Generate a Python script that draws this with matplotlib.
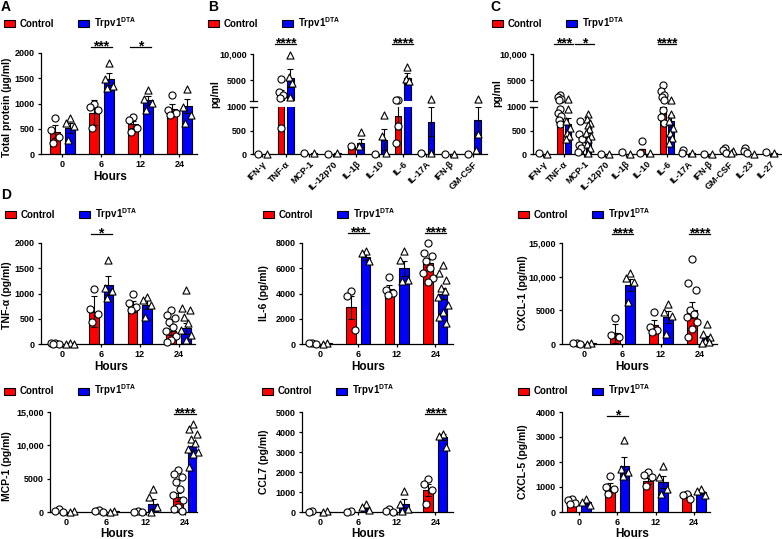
import matplotlib
matplotlib.use("Agg")
import matplotlib.pyplot as plt
from matplotlib.patches import Rectangle
from matplotlib import transforms

W, H = 782, 539

plt.rcParams['font.family'] = ['Liberation Sans', 'DejaVu Sans']
plt.rcParams['font.weight'] = 'bold'
plt.rcParams['mathtext.fontset'] = 'custom'
plt.rcParams['mathtext.rm'] = 'Liberation Sans:bold'
plt.rcParams['mathtext.it'] = 'Liberation Sans:bold'
plt.rcParams['mathtext.bf'] = 'Liberation Sans:bold'
plt.rcParams['axes.linewidth'] = 0.9
plt.rcParams['xtick.major.width'] = 0.9
plt.rcParams['ytick.major.width'] = 0.9

RED = '#ff0000'
BLUE = '#0000ff'

hours = ['0', '6', '12', '24']

# --- A: total protein
prot_ctrl_mean = [444, 821, 590, 900]
prot_ctrl_sem = [130, 250, 70, 90]
prot_ctrl_pts = [[709, 477, 344, 212], [993, 940, 874, 510], [742, 675, 510, 444], [1172, 874, 808, 775]]
prot_trpv_mean = [510, 1490, 1060, 954]
prot_trpv_sem = [95, 115, 80, 140]
prot_trpv_pts = [[709, 609, 556, 278], [1801, 1483, 1338, 1304], [1258, 1086, 1006, 874], [1284, 940, 775, 622]]

# --- B: cytokines panel 1
b_cats = ['IFN-γ', 'TNF-α', 'MCP-1', 'IL-12p70', 'IL-1β', 'IL-10', 'IL-6', 'IL-17A', 'IFN-β', 'GM-CSF']
b_ctrl_mean = [5, 2300, 30, 5, 175, 5, 800, 30, 5, 5]
b_ctrl_sem = [0, 850, 0, 0, 0, 0, 220, 0, 0, 0]
b_ctrl_pts = [[0], [5100, 2600, 2100, 1600, 560], [30], [0], [175], [0], [1250, 1150, 600, 240], [30], [0], [0]]
b_trpv_mean = [5, 5400, 30, 20, 234, 306, 5300, 690, 5, 715]
b_trpv_sem = [0, 1650, 0, 0, 90, 220, 980, 310, 0, 285]
b_trpv_pts = [[0], [9800, 5600, 4400, 1800], [30], [20], [467, 160], [832, 380, 15], [7500, 5100, 4800],
              [1300, 20], [0], [1300, 430, 90]]

# --- C: cytokines panel 2
c_cats = ['IFN-γ', 'TNF-α', 'MCP-1', 'IL-12p70', 'IL-1β', 'IL-10', 'IL-6', 'IL-17A', 'IFN-β', 'GM-CSF',
          'IL-23', 'IL-27']
c_ctrl_mean = [20, 850, 130, 5, 50, 100, 1100, 50, 5, 70, 60, 30]
c_ctrl_sem = [0, 150, 60, 0, 0, 0, 250, 0, 0, 0, 0, 0]
c_ctrl_pts = [[20], [2100, 1800, 1400, 1100, 960, 880, 800, 720, 640], [710, 420, 310, 200, 120, 50], [10], [50],
              [270, 30], [4100, 2900, 2200, 1700, 1100, 930, 780, 670], [90, 30], [5], [130, 80, 30],
              [120, 70, 30], [40]]
c_trpv_mean = [5, 630, 380, 5, 10, 10, 700, 15, 5, 30, 10, 15]
c_trpv_sem = [0, 130, 70, 0, 0, 0, 120, 0, 0, 0, 0, 0]
c_trpv_pts = [[5], [1400, 960, 710, 560, 450, 380, 320], [850, 750, 670, 610, 540, 450, 380, 310, 220, 120, 30],
              [5], [10], [20], [1250, 850, 710, 560, 450, 340, 230], [15], [5], [60, 20], [10], [20]]

# --- D: time courses
tnf_ctrl_mean = [15, 640, 740, 260]
tnf_ctrl_sem = [5, 310, 110, 90]
tnf_ctrl_pts = [[20, 10, 5, 0], [1090, 690, 600, 440], [990, 810, 740, 680],
                [680, 580, 510, 440, 340, 250, 150, 80, 40]]
tnf_trpv_mean = [10, 1160, 775, 310]
tnf_trpv_sem = [3, 180, 90, 110]
tnf_trpv_pts = [[10, 5, 0], [1670, 1100, 1040, 910], [940, 870, 780, 540], [1060, 710, 670, 540, 410, 280, 180, 80]]

il6_ctrl_mean = [60, 2900, 4350, 6400]
il6_ctrl_sem = [20, 900, 320, 340]
il6_ctrl_pts = [[80, 50, 30], [4160, 3820, 1110], [5300, 4290, 4030, 3900],
                [8000, 7200, 6940, 6550, 6000, 5600, 5200, 4950]]
il6_trpv_mean = [50, 6900, 6000, 4000]
il6_trpv_sem = [15, 250, 600, 450]
il6_trpv_pts = [[50, 30], [7340, 7200, 6550], [7340, 6680, 5090, 4960],
                [6280, 5620, 5090, 4430, 4160, 3760, 3100, 2570, 2170, 1640]]

cxcl1_ctrl_mean = [100, 1600, 2750, 5100]
cxcl1_ctrl_sem = [30, 1400, 800, 1200]
cxcl1_ctrl_pts = [[150, 100, 50], [3900, 1400, 1000], [4750, 2500, 2100, 1750],
                  [12600, 9000, 8000, 5000, 4500, 4000, 3250, 2250, 1100]]
cxcl1_trpv_mean = [80, 8750, 4000, 850]
cxcl1_trpv_sem = [20, 900, 900, 300]
cxcl1_trpv_pts = [[80, 50], [10600, 9750, 9250, 6250], [6000, 4750, 4100, 1500], [2900, 1500, 1000, 500, 250, 100]]

mcp1_ctrl_mean = [200, 150, 50, 2300]
mcp1_ctrl_sem = [50, 50, 20, 600]
mcp1_ctrl_pts = [[500, 150, 50], [300, 150, 50], [100, 50, 20],
                 [6250, 5750, 5250, 4500, 3500, 2500, 1750, 750, 500, 200]]
mcp1_trpv_mean = [50, 100, 1250, 9850]
mcp1_trpv_sem = [20, 30, 750, 600]
mcp1_trpv_pts = [[80, 30], [200, 50], [3500, 2250, 750, 0],
                 [13250, 12500, 11750, 11000, 10300, 9500, 9000, 8700, 6700]]

ccl7_ctrl_mean = [20, 20, 40, 1100]
ccl7_ctrl_sem = [5, 5, 20, 280]
ccl7_ctrl_pts = [[30, 10], [40, 20], [160, 60, 20], [1670, 1380, 1080, 420]]
ccl7_trpv_mean = [20, 200, 420, 3730]
ccl7_trpv_sem = [5, 80, 230, 150]
ccl7_trpv_pts = [[30, 10], [420, 250, 80], [1050, 420, 170, 50], [3880, 3780, 3250]]

cxcl5_ctrl_mean = [400, 1000, 1240, 730]
cxcl5_ctrl_sem = [50, 150, 130, 50]
cxcl5_ctrl_pts = [[530, 470, 360, 310], [1430, 1000, 930, 730], [1600, 1470, 1400, 1030], [730, 670, 530]]
cxcl5_trpv_mean = [400, 1830, 1200, 800]
cxcl5_trpv_sem = [60, 370, 250, 60]
cxcl5_trpv_pts = [[530, 400, 270], [2870, 1730, 1600, 1430], [1830, 1400, 930, 710], [930, 840, 670]]


fig = plt.figure(figsize=(W / 100, H / 100), dpi=100)


def box(x0, y0, x1, y1):
    return [x0 / W, 1 - y1 / H, (x1 - x0) / W, (y1 - y0) / H]


def fy(y):
    return 1 - y / H


def fmt(v):
    return f"{v:,}" if v >= 10000 else str(v)


def spread(n, w):
    pattern = [0, -1, 1, -0.5, 0.5, -1.3, 1.3]
    return [pattern[i % len(pattern)] * w for i in range(n)]


def draw_groups(ax, ctrl, trpv, off, width, w, keep=None):
    for sign, color, marker, (mean, sem, pts) in [(-1, RED, 'o', ctrl), (1, BLUE, '^', trpv)]:
        xs = [i + sign * off for i in range(len(mean))]
        ax.bar(xs, mean, width, color=color, edgecolor='black', linewidth=0.8, zorder=2)
        ax.errorbar(xs, mean, yerr=sem, fmt='none', ecolor='black', elinewidth=0.8,
                    capsize=2, capthick=0.8, zorder=3)
        for xi, p in zip(xs, pts):
            vals = [v for v in p if keep is None or keep(v)]
            if not vals:
                continue
            ax.scatter([xi + o for o in spread(len(vals), w)], vals, s=26, marker=marker,
                       facecolor='white', edgecolor='black', linewidths=0.8, zorder=4, clip_on=False)


def legend(xr, y):
    for dx, color in [(0, RED), (74, BLUE)]:
        fig.add_artist(Rectangle(((xr + dx) / W, fy(y + 3.5)), 11 / W, 7 / H, transform=fig.transFigure,
                                 facecolor=color, edgecolor='black', linewidth=0.8))
    fig.text((xr + 16) / W, fy(y + 3.5), 'Control', fontsize=7, va='baseline')
    fig.text((xr + 90) / W, fy(y + 3.5), r'Trpv1$^{\mathrm{DTA}}$', fontsize=7, va='baseline')


def sig(ax, x, ypx, text, half):
    tr = transforms.blended_transform_factory(ax.transData, fig.transFigure)
    ax.plot([x - half, x + half], [fy(ypx), fy(ypx)], color='black', lw=0.9, transform=tr, clip_on=False)
    ax.text(x, fy(ypx + 3.5), text, transform=tr, ha='center', va='baseline', fontsize=10)


def style(ax):
    for s in ['top', 'right']:
        ax.spines[s].set_visible(False)
    ax.tick_params(length=2.5, pad=2, labelsize=6.5)


def time_panel(rect, ctrl, trpv, ticks, xlim, ylabel, ylab_xy, sigs, sig_y, hours_xy):
    ax = fig.add_axes(box(*rect))
    draw_groups(ax, ctrl, trpv, 0.19, 0.25, 0.1)
    ax.set_xlim(*xlim)
    ax.set_ylim(0, ticks[-1])
    ax.set_yticks(ticks)
    ax.set_yticklabels([fmt(t) for t in ticks])
    ax.set_xticks(range(4))
    ax.set_xticklabels(hours)
    style(ax)
    fig.text(ylab_xy[0] / W, fy(ylab_xy[1]), ylabel, rotation=90, ha='center', va='center', fontsize=7.5)
    fig.text(hours_xy[0] / W, fy(hours_xy[1]), 'Hours', ha='center', va='center', fontsize=8.5)
    for g, t in sigs:
        sig(ax, g, sig_y, t, 0.27)
    return ax


def cyto_panel(x0, x1, cats, ctrl, trpv, xlim, sigs):
    lo = fig.add_axes(box(x0, 107, x1, 154))
    hi = fig.add_axes(box(x0, 54, x1, 100.8))
    draw_groups(lo, ctrl, trpv, 0.2, 0.28, 0.08, keep=lambda v: v < 1000)
    draw_groups(hi, ctrl, trpv, 0.2, 0.28, 0.08, keep=lambda v: v >= 1000)
    for ax in (lo, hi):
        ax.set_xlim(*xlim)
        style(ax)
    lo.set_ylim(0, 1000)
    lo.set_yticks([0, 500, 1000])
    lo.set_xticks(range(len(cats)))
    lo.set_xticklabels(cats, rotation=45, ha='right', va='top', rotation_mode='anchor', fontsize=6.5)
    lo.tick_params(axis='x', length=2)
    hi.set_ylim(1000, 10000)
    hi.set_yticks([5000, 10000])
    hi.set_yticklabels(['5000', '10,000'])
    hi.spines['bottom'].set_visible(False)
    hi.set_xticks([])
    # break marks on the y axis
    bw = 3.5 / (x1 - x0)
    lo.plot([-bw, bw], [1, 1], transform=lo.transAxes, color='black', lw=0.9, clip_on=False)
    hi.plot([-bw, bw], [0, 0], transform=hi.transAxes, color='black', lw=0.9, clip_on=False)
    for g, t in sigs:
        sig(hi, g, 44, t, 0.45)
    return lo, hi


# A
axA = time_panel((41, 53, 197, 154),
                 (prot_ctrl_mean, prot_ctrl_sem, prot_ctrl_pts), (prot_trpv_mean, prot_trpv_sem, prot_trpv_pts),
                 [0, 500, 1000, 1500, 2000], (-0.55, 3.45), 'Total protein (µg/ml)', (7, 107),
                 [(1, '***'), (2, '*')], 47, (110, 177))
legend(4, 24)

# B
cyto_panel(253, 487, b_cats, (b_ctrl_mean, b_ctrl_sem, b_ctrl_pts), (b_trpv_mean, b_trpv_sem, b_trpv_pts),
           (-0.4, 9.6), [(1, '****'), (6, '****')])
fig.text(215 / W, fy(94), 'pg/ml', rotation=90, ha='center', va='center', fontsize=7.5)
legend(208, 24)

# C
cyto_panel(533, 782, c_cats, (c_ctrl_mean, c_ctrl_sem, c_ctrl_pts), (c_trpv_mean, c_trpv_sem, c_trpv_pts),
           (-0.49, 11.58), [(1, '***'), (2, '*'), (6, '****')])
fig.text(497 / W, fy(93), 'pg/ml', rotation=90, ha='center', va='center', fontsize=7.5)
legend(492, 24)

# D, middle row
time_panel((41, 243, 195, 344), (tnf_ctrl_mean, tnf_ctrl_sem, tnf_ctrl_pts),
           (tnf_trpv_mean, tnf_trpv_sem, tnf_trpv_pts), [0, 500, 1000, 1500, 2000], (-0.55, 3.42),
           'TNF-α (pg/ml)', (7.5, 295), [(1, '*')], 234, (111, 367))
legend(5, 214)
time_panel((302, 243, 453, 344), (il6_ctrl_mean, il6_ctrl_sem, il6_ctrl_pts),
           (il6_trpv_mean, il6_trpv_sem, il6_trpv_pts), [0, 2000, 4000, 6000, 8000], (-0.46, 3.46),
           'IL-6 (pg/ml)', (264, 293), [(1, '***'), (3, '****')], 233, (368, 367))
legend(263, 214)
time_panel((562, 243, 717, 344), (cxcl1_ctrl_mean, cxcl1_ctrl_sem, cxcl1_ctrl_pts),
           (cxcl1_trpv_mean, cxcl1_trpv_sem, cxcl1_trpv_pts), [0, 5000, 10000, 15000], (-0.57, 3.46),
           'CXCL-1 (pg/ml)', (523, 293), [(1, '****'), (3, '****')], 234, (632, 367))
legend(518, 214)

# D, bottom row
time_panel((50, 412, 197, 512), (mcp1_ctrl_mean, mcp1_ctrl_sem, mcp1_ctrl_pts),
           (mcp1_trpv_mean, mcp1_trpv_sem, mcp1_trpv_pts), [0, 5000, 10000, 15000], (-0.42, 3.3),
           'MCP-1 (pg/ml)', (7.5, 466), [(3, '****')], 414, (117, 534))
legend(4, 391)
time_panel((302, 412, 453, 512), (ccl7_ctrl_mean, ccl7_ctrl_sem, ccl7_ctrl_pts),
           (ccl7_trpv_mean, ccl7_trpv_sem, ccl7_trpv_pts), [0, 1000, 2000, 3000, 4000, 5000], (-0.46, 3.46),
           'CCL7 (pg/ml)', (264, 462), [(3, '****')], 414, (368, 534))
legend(262, 391)
time_panel((562, 412, 710, 512), (cxcl5_ctrl_mean, cxcl5_ctrl_sem, cxcl5_ctrl_pts),
           (cxcl5_trpv_mean, cxcl5_trpv_sem, cxcl5_trpv_pts), [0, 1000, 2000, 3000, 4000], (-0.44, 3.42),
           'CXCL-5 (pg/ml)', (523, 462), [(1, '*')], 416, (632, 534))
legend(518, 391)

for letter, x, y in [('A', 1, 0), ('B', 208, 0), ('C', 490, 0), ('D', 1, 188)]:
    fig.text(x / W, fy(y), letter, fontsize=10, va='top', ha='left')

fig.savefig('out.png', dpi=100)
plt.close(fig)
